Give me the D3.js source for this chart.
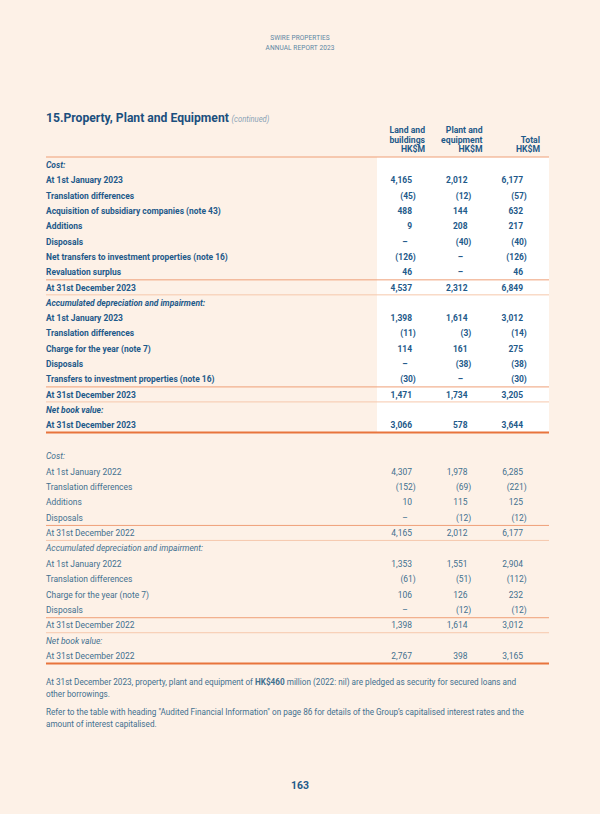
<!DOCTYPE html>
<html><head><meta charset="utf-8">
<script src="https://cdn.jsdelivr.net/npm/d3@7"></script>
<style>body{margin:0;background:#fdf1e7}svg{display:block}</style>
</head><body><svg id="c" width="600" height="814"></svg>
<script>
// ---------- data ----------
const headerLines = ["SWIRE PROPERTIES", "ANNUAL REPORT 2023"];
const titleText = "15.Property, Plant and Equipment";
const titleNote = "(continued)";
const columnKeys = ["land", "plant", "total"];
const columnHeads = [["Land and", "buildings", "HK$M"], ["Plant and", "equipment", "HK$M"], ["Total", "HK$M"]];

const labels2023 = ["Cost:", "At 1st January 2023", "Translation differences", "Acquisition of subsidiary companies (note 43)",
  "Additions", "Disposals", "Net transfers to investment properties (note 16)", "Revaluation surplus", "At 31st December 2023",
  "Accumulated depreciation and impairment:", "At 1st January 2023", "Translation differences", "Charge for the year (note 7)",
  "Disposals", "Transfers to investment properties (note 16)", "At 31st December 2023", "Net book value:", "At 31st December 2023"];
const land2023  = [null, 4165, -45, 488, 9, 0, -126, 46, 4537, null, 1398, -11, 114, 0, -30, 1471, null, 3066];
const plant2023 = [null, 2012, -12, 144, 208, -40, 0, 0, 2312, null, 1614, -3, 161, -38, 0, 1734, null, 578];
const total2023 = [null, 6177, -57, 632, 217, -40, -126, 46, 6849, null, 3012, -14, 275, -38, -30, 3205, null, 3644];
const subtotalRows2023 = [8, 15];

const labels2022 = ["Cost:", "At 1st January 2022", "Translation differences", "Additions", "Disposals", "At 31st December 2022",
  "Accumulated depreciation and impairment:", "At 1st January 2022", "Translation differences", "Charge for the year (note 7)",
  "Disposals", "At 31st December 2022", "Net book value:", "At 31st December 2022"];
const land2022  = [null, 4307, -152, 10, 0, 4165, null, 1353, -61, 106, 0, 1398, null, 2767];
const plant2022 = [null, 1978, -69, 115, -12, 2012, null, 1551, -51, 126, -12, 1614, null, 398];
const total2022 = [null, 6285, -221, 125, -12, 6177, null, 2904, -112, 232, -12, 3012, null, 3165];
const subtotalRows2022 = [5, 11];

const notes = [
  [["At 31st December 2023, property, plant and equipment of ", false], ["HK$460", true], [" million (2022: nil) are pledged as security for secured loans and", false]],
  [["other borrowings.", false]],
  [["Refer to the table with heading \"Audited Financial Information\" on page 86 for details of the Group\u2019s capitalised interest rates and the", false]],
  [["amount of interest capitalised.", false]]
];
const pageNumber = "163";

// ---------- style ----------
const FONT = "Roboto, 'Noto Sans', sans-serif";
const SX = 0.94;
const C = {
  bg: "#fdf1e7", title: "#1b4f7e", bold: "#1e5a8a", light: "#42708f", head: "#5c86a3",
  note: "#8aa3b6", ruleTop: "#ef9f77", ruleBot: "#f6c8ac", thick: "#e8743c"
};

const svg = d3.select("#c");
svg.append("rect").attr("width", 600).attr("height", 814).attr("fill", C.bg);

function txt(g, x, y, s, o = {}) {
  const t = g.append("text")
    .attr("transform", `translate(${x},${y}) scale(${o.sx ?? SX},1)`)
    .attr("font-family", FONT)
    .attr("font-size", o.size ?? 9)
    .attr("font-weight", o.weight ?? "normal")
    .attr("font-style", o.italic ? "italic" : "normal")
    .attr("fill", o.fill ?? C.bold)
    .attr("text-anchor", o.anchor ?? "start")
    .attr("letter-spacing", o.ls ?? 0)
    .attr("dy", "0.35em")
    .text(s);
  return t;
}

// page header
headerLines.forEach((s, i) => txt(svg, 300, 37 + i * 10, s, { size: 7.6, fill: C.head, anchor: "middle", sx: 0.86, ls: 0.1 }));

// title
const tt = svg.append("text")
  .attr("transform", `translate(46,116) scale(0.9,1)`)
  .attr("font-family", FONT).attr("dy", "0.35em").attr("fill", C.title);
tt.append("tspan").attr("font-size", 13.5).attr("font-weight", "bold").text(titleText);
tt.append("tspan").attr("font-size", 8.5).attr("font-style", "italic").attr("fill", C.note).attr("dx", 3).text(titleNote);

// scales
const xCol = d3.scalePoint().domain(columnKeys).range([412, 523]);
const xHead = d3.scalePoint().domain(columnKeys).range([425, 540]);
const fmt = d3.format(",");
const LEFT = 46, RIGHT = 549;

// white panel for current year figures
svg.append("rect").attr("x", 377).attr("y", 157).attr("width", RIGHT - 377).attr("height", 432 - 157).attr("fill", "#ffffff");

// column heads
columnKeys.forEach((k, i) => {
  const lines = columnHeads[i];
  lines.forEach((s, j) => {
    const y = 149 - (lines.length - 1 - j) * 9.6;
    txt(svg, xHead(k), y, s, { weight: "bold", anchor: "end", size: 9.2 });
  });
});
svg.append("line").attr("x1", LEFT).attr("x2", RIGHT).attr("y1", 157).attr("y2", 157)
  .attr("stroke", C.ruleTop).attr("stroke-width", 1);

function drawBlock(labels, land, plant, total, subtotals, y0, y1, bold) {
  const g = svg.append("g");
  const y = d3.scaleLinear().domain([0, labels.length - 1]).range([y0, y1]);
  const cols = { land, plant, total };
  const fill = bold ? C.bold : C.light;
  const weight = bold ? "bold" : "normal";
  subtotals.forEach(r => {
    g.append("line").attr("x1", LEFT).attr("x2", RIGHT).attr("y1", y(r) - 7.5).attr("y2", y(r) - 7.5)
      .attr("stroke", C.ruleTop).attr("stroke-width", 1);
    g.append("line").attr("x1", LEFT).attr("x2", RIGHT).attr("y1", y(r) + 7.5).attr("y2", y(r) + 7.5)
      .attr("stroke", C.ruleBot).attr("stroke-width", 1);
  });
  const last = labels.length - 1;
  g.append("line").attr("x1", LEFT).attr("x2", RIGHT).attr("y1", y(last) + 7.5).attr("y2", y(last) + 7.5)
    .attr("stroke", C.thick).attr("stroke-width", 2);
  labels.forEach((lab, i) => {
    const section = land[i] === null;
    txt(g, LEFT, y(i), lab, { weight, fill, italic: section });
    if (section) return;
    columnKeys.forEach(k => {
      const v = cols[k][i];
      if (v === 0) {
        txt(g, xCol(k) - 7, y(i), "\u2013", { weight, fill, anchor: "middle" });
      } else if (v < 0) {
        txt(g, xCol(k) + 3.8, y(i), "(" + fmt(-v) + ")", { weight, fill, anchor: "end" });
      } else {
        txt(g, xCol(k), y(i), fmt(v), { weight, fill, anchor: "end" });
      }
    });
  });
}

drawBlock(labels2023, land2023, plant2023, total2023, subtotalRows2023, 165, 425, true);
drawBlock(labels2022, land2022, plant2022, total2022, subtotalRows2022, 456, 656, false);

// notes
const noteY = [682, 694, 712, 724];
notes.forEach((parts, i) => {
  const t = svg.append("text")
    .attr("transform", `translate(46,${noteY[i]}) scale(0.93,1)`)
    .attr("font-family", FONT).attr("font-size", 8.8).attr("dy", "0.35em").attr("fill", C.light);
  parts.forEach(([s, b]) => t.append("tspan").attr("font-weight", b ? "bold" : "normal").text(s));
});

// page number
txt(svg, 300, 785, pageNumber, { size: 11, weight: "bold", anchor: "middle", fill: C.bold, sx: 0.95 });
</script>
</body></html>
